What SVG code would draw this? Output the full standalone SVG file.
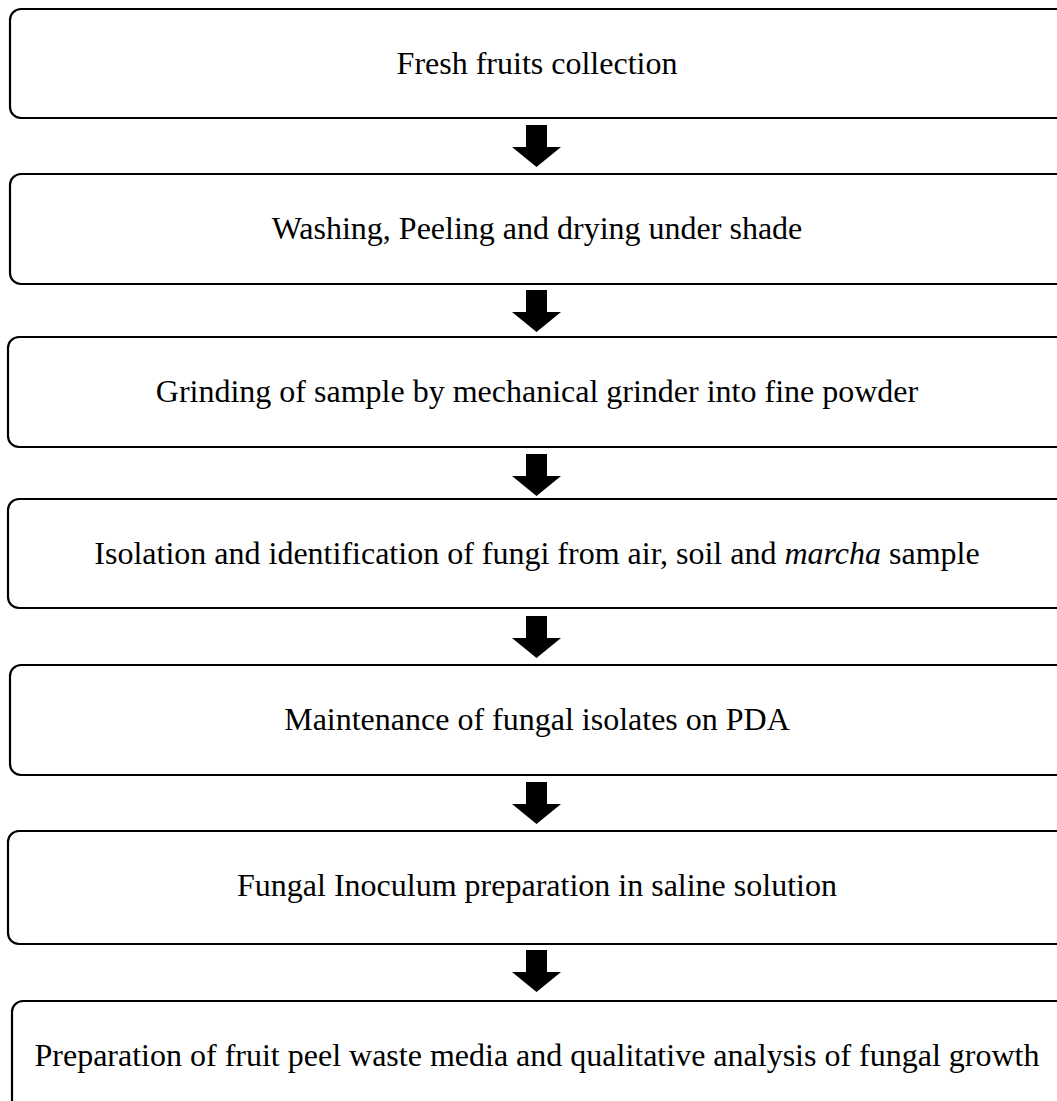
<svg xmlns="http://www.w3.org/2000/svg" width="1057" height="1101" viewBox="0 0 1057 1101">
<style>
.box{fill:#fff;stroke:#000;stroke-width:2.2}
.t{font-family:"Liberation Serif","Times New Roman",serif;font-size:32px;fill:#000;text-anchor:middle}
.arr{fill:#000}
</style>
<defs>
<path id="arrow" d="M526,0 H547 V22 H561 L536.5,42 L512,22 H526 Z"/>
</defs>
<rect width="1057" height="1101" fill="#fff"/>
<g id="connectors">
<use href="#arrow" class="arr" y="125"/>
<use href="#arrow" class="arr" y="290"/>
<use href="#arrow" class="arr" y="454"/>
<use href="#arrow" class="arr" y="616"/>
<use href="#arrow" class="arr" y="782"/>
<use href="#arrow" class="arr" y="950"/>
</g>
<g id="n1"><rect class="box" x="10" y="9" width="1060" height="109" rx="11"/><text class="t" x="537" y="74">Fresh fruits collection</text></g>
<g id="n2"><rect class="box" x="10" y="174" width="1060" height="110" rx="11"/><text class="t" x="537" y="239">Washing, Peeling and drying under shade</text></g>
<g id="n3"><rect class="box" x="8" y="337" width="1062" height="110" rx="11"/><text class="t" x="537" y="402">Grinding of sample by mechanical grinder into fine powder</text></g>
<g id="n4"><rect class="box" x="8" y="499" width="1062" height="109" rx="11"/><text class="t" x="537" y="564">Isolation and identification of fungi from air, soil and <tspan font-style="italic">marcha</tspan> sample</text></g>
<g id="n5"><rect class="box" x="10" y="665" width="1060" height="110" rx="11"/><text class="t" x="537" y="730">Maintenance of fungal isolates on PDA</text></g>
<g id="n6"><rect class="box" x="8" y="831" width="1062" height="113" rx="11"/><text class="t" x="537" y="896">Fungal Inoculum preparation in saline solution</text></g>
<g id="n7"><rect class="box" x="12" y="1001" width="1058" height="120" rx="11"/><text class="t" x="537" y="1066">Preparation of fruit peel waste media and qualitative analysis of fungal growth</text></g>
</svg>
